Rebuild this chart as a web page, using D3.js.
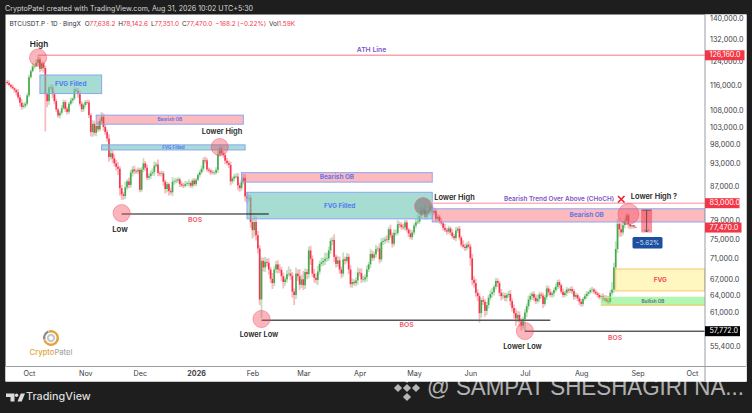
<!DOCTYPE html>
<html>
<head>
<meta charset="utf-8">
<style>
  html, body { margin: 0; padding: 0; background: #1e1e1e; }
  svg { display: block; font-family: Inter, Roboto, sans-serif; }
  .yaxis text, .xaxis text { fill: #3a3d45; font-size: 7.2px; font-family: Inter, Roboto, sans-serif; }
</style>
</head>
<body>
<script src="https://cdn.jsdelivr.net/npm/d3@7"></script>
<script>
// Daily closes in thousands of USDT
const closesSep = [116.6,116,115.4,114.9,114.3,113.6,112,110.3,109,109.4,110,112.6];
const closesOct = [118.6,120.6,122.2,122.4,123.5,124.7,121.4,123.3,121.7,113,110.8,115.2,115.2,113,110.8,108.2,106.4,107.2,108.6,110.5,108.4,107.5,110,111,111.6,114.5,114.1,113,110,108.3,109.6];
const closesNov = [110.5,110.4,106.5,101.5,103.9,101.3,103.3,102.3,104.7,106,103,101.5,99.7,94.6,95.6,94.2,92.9,92,91.5,86.6,85.1,84.7,86.8,88.3,87.4,90.5,91.3,90.9,90.8,91.2];
const closesDec = [86.2,91.3,92.9,91.8,89.2,89.6,90.3,90.6,92.3,92.6,90.4,90.2,90.3,88.2,86.4,87.6,85.9,85.6,88.2,88.3,88.5,88.8,87.6,87.3,87.2,87.6,87.8,87.9,87.2,88.5,87.6];
const closesJan = [88.7,89.9,90.6,91.5,93.8,93.7,91.3,91,90.6,90.5,90.5,91.2,95.3,97,95.6,95.1,93.6,93,92.5,88.3,89,89.5,89.5,87.3,86.6,88.3,89.2,84.6,84.1,84.3,78.7];
const closesFeb = [76.9,78.7,75.8,73,63.2,70.5,69.2,70.3,70.1,68.8,67,66.2,68.8,69.8,68.8,68.7,67.5,66.4,66.9,67.9,68,67.6,64.6,64,68,67.5,65.9,66.9];
const closesMar = [65.8,68.3,67.9,72.6,70.9,68,67.2,66.8,68.4,69.9,70.2,70.5,70.9,71,72.6,74.6,74.8,71.3,69.9,70.6,68.8,68,70.8,70.5,71.3,68.8,66,66.4,66.2,66.7,68.2];
const closesApr = [68.1,66.9,66.9,67.3,68.8,69.8,71.9,71.1,71.8,72.9,73,70.8,74.4,74.6,74.9,74.8,77.1,75.8,74,76.3,76.3,78.2,78.1,77.6,77.5,78.6,77,76.2,75.4,76.4];
const closesMay = [77.9,78.6,78.8,80,81.3,81.4,79.8,80.5,81,82.3,80.8,81.2,79.4,79.9,78.9,78.4,77.4,76.9,76.6,77.3,76.4,75.6,75.2,76.8,77.2,75.3,73.8,73.4,73.1,73.8,73.4];
const closesJun = [71,66.8,66.2,64.4,63.8,60.8,63.1,62.8,61.2,62.2,63.5,64.2,64.5,65.5,66.6,66.2,64.4,63.8,63.9,63.5,64,64.2,62.9,61.7,60.8,59.9,60.5,59.4,58.7,59.8];
const closesJul = [60.9,62,63.2,63.8,64.2,63.5,62.9,63.3,64.1,63.9,62.4,63.6,65.2,64.5,64,64.3,64.9,65.5,66.4,65.8,64.6,64,64.4,65,64.8,65.1,64.7,63.7,64,63.4,62.8];
const closesAug = [62.4,63.3,63.8,64.2,64.5,64.9,65,64.6,64.3,64,63.6,63.8,63.4,63.2,62.9,62.8,64.4,65,69.2,72.9,78.3,77.1,76.4,78,78.9,80.2,78.2,77.7,78,77.638,77.47];

// Wick lengths above the body and below the body, same order as the closes
const wicksUp = [
  .6,.9,.4,.7,.3,.5,1,.8,1.2,.9,.6,.8,
  .8,.6,1.3,.7,1.2,1.46,.9,.5,.6,.8,.5,.4,1,.9,.9,.7,.5,.6,1,.8,.6,.7,.5,.9,.4,.8,.6,.9,1.2,.7,.5,
  .6,.7,.8,.5,1.1,.9,.6,1.3,.8,1.5,1,.9,.7,1.1,1.3,.8,1,.9,1.2,.7,.8,.6,1.4,.5,.9,.7,.8,1,.6,.7,
  .5,.7,1.4,.6,.9,.7,.8,1,1.1,.6,1.3,.5,.7,.6,.5,.6,.4,.8,1.2,.7,.6,.5,.4,.7,.6,.8,.5,.9,.4,.5,.6,
  .4,.5,.6,.8,.7,.9,.6,.5,.4,.6,.5,.7,1,.9,.8,.6,.5,.7,.6,.9,.5,.7,.8,.9,.6,.5,1,
  .9,1.1,.8,.6,.7,1.5,1.2,.9,.7,.8,.6,1,.7,.9,.5,1.1,.6,.7,.8,1,.6,.7,.5,.8,1.4,.9,.7,.6,
  1.2,.8,1.4,.9,1.6,.7,.6,.8,1,.7,.9,.8,1.1,.6,.9,.7,1.3,1.1,.8,.6,.7,1.2,.5,.9,.7,.6,1.4,.5,.8,.6,.9,
  .7,.5,.6,1,.8,.9,.7,.6,.8,.5,1,.7,.6,.9,.5,1.1,.8,.7,.6,.9,.5,1,.6,.8,.7,.9,.6,.5,.7,.6,
  .5,.4,.8,.6,.5,.9,1.6,.5,.7,.4,1,.6,.5,.4,.7,.8,.5,.6,.4,.7,.3,.9,.5,.6,.4,.7,.5,.8,.5,.6,.4,
  .9,.6,.5,.8,.6,.9,.7,.8,.6,.5,.4,.7,.5,.6,.5,.7,.8,.4,.6,.5,.4,.7,.6,.5,.4,.6,.7,.5,.6,.8,
  .7,.6,.5,.4,.6,.5,.7,.6,.4,.5,.6,.8,.5,.4,.5,.4,.6,.5,.6,.4,.5,.6,.4,.5,.3,.6,.4,.5,.3,.4,.5,
  .4,.5,.3,.4,.5,.3,.4,.5,.3,.4,.5,.3,.4,.3,.4,.3,.5,.6,.7,.9,.5,1.4,.9,1.6,1.1,1.2,1.4,.9,.7,.5,.5
];
const wicksDown = [
  .5,.4,.6,.3,.8,1,.7,1.1,.9,.5,.7,.6,
  .6,.5,.4,.7,.5,.9,1.2,.8,1.6,11.3,1.9,1.1,.9,1.3,1,.8,.7,.9,.6,.5,1,.8,.7,.5,.9,.6,.4,1.1,.7,.9,.8,
  .7,.6,.9,1.2,1.4,.8,1,.7,.6,.9,1.1,.8,.9,1.3,.7,1.2,.8,.9,1.6,1.8,1.3,.9,.7,.6,.8,.7,1,.8,.6,.7,
  .6,.5,.7,.8,.6,.5,.7,.6,.9,.5,.8,.6,.7,1,1.1,.8,1.1,.6,.9,.7,.5,.6,.7,.5,.6,.4,.5,.8,.5,.6,.5,
  .5,.4,.6,.5,.7,.8,.6,.5,.7,.4,.6,.5,.8,.6,.5,.7,.9,.6,.8,1,.6,.7,.5,1.2,.9,.6,.8,1.2,1.1,.7,1.3,
  1.8,1.4,1.1,1,1,3.2,.8,.9,.7,1,.8,1.1,.6,.7,.8,.6,.9,1.2,.7,.6,.5,.8,1.1,1.8,.7,.9,1,.6,
  .9,.7,1,.8,1.2,.6,.9,.7,1,.6,.5,.7,.8,.6,.5,.7,.9,1,.7,.6,.8,.9,.6,.7,.5,.9,.6,.7,.5,.6,.8,
  .6,.7,.5,.6,.8,.5,.7,.6,.5,.7,.6,.8,.5,.7,.6,.5,.7,.6,.8,.5,.6,.5,.7,.6,.5,.7,.6,.8,.5,.6,
  .5,.6,.4,.5,.7,.6,.5,.6,.4,.7,.5,.6,.7,.4,.6,.5,.6,.4,.7,.5,.6,.5,.4,.7,.5,.6,.5,.4,.6,.5,.4,
  1.5,1,.8,.7,.9,1.6,.8,.6,1,.7,.6,.5,.7,.6,.5,.7,.6,.8,.5,.6,.7,.5,.8,.6,.9,1.3,.7,.9,.8,.5,
  2.03,.8,.6,.5,.7,.6,.5,.4,.6,.5,.7,.4,.5,.6,.4,.5,.6,.4,.5,.6,.4,.5,.4,.6,.5,.4,.5,.6,.4,.5,.6,
  .5,.4,.3,.5,.4,.3,.5,.4,.3,.5,.4,.3,.5,.4,.3,.4,.3,.5,.6,.5,.8,1.6,.9,.6,.7,.8,.9,.6,.5,.4,.119
];

const priceTicks = [140000,132000,124000,116000,108000,103000,98000,93000,87000,79000,75000,71000,67000,64000,61000,58000,55400];
const monthTicks = ["2025-10-01","2025-11-01","2025-12-01","2026-01-01","2026-02-01","2026-03-01","2026-04-01","2026-05-01","2026-06-01","2026-07-01","2026-08-01","2026-09-01","2026-10-01"];

// Marked zones on the chart
const zoneNames  = ["FVG Filled","Bearish OB","FVG Filled","Bearish OB","FVG Filled","Bearish OB","FVG","Bullish OB"];
const zoneStarts = ["2025-10-07","2025-11-07","2025-11-10","2026-01-26","2026-01-29","2026-05-11","2026-08-20","2026-08-12"];
const zoneEnds   = ["2025-11-10","2026-01-27","2026-01-28","2026-05-11","2026-05-11","2026-10-28","2026-10-08","2026-10-08"];
const zoneTops   = [119300,106500,97900,90500,85600,81700,68900,63600];
const zoneBottoms= [113200,103800,96500,88100,79400,78700,64750,62200];

// Swing points circled on the chart
const pivotDates  = ["2025-10-06","2025-11-21","2026-01-14","2026-02-06","2026-05-06","2026-07-01","2026-08-27"];
const pivotPrices = [125300,80700,97300,59800,82300,57800,80500];

// Break of structure lines
const bosStarts = ["2025-11-21","2026-02-06","2026-07-01"];
const bosEnds   = ["2026-02-10","2026-07-15","2026-10-08"];
const bosPrices = [80500,59600,57772];

const w = 752;
const h = 413;
const plotLeft = 6;
const plotRight = 705;
const plotBottom = 366.5;
const parse = d3.utcParse("%Y-%m-%d");

const svg = d3.select("body").append("svg").attr("width", w).attr("height", h);

const x = d3.scaleUtc()
  .domain([parse("2025-10-01"), parse("2026-10-01")])
  .range([29, 692]);
const y = d3.scaleLog()
  .domain([55400, 140000])
  .range([346, 18.5]);

// Build candles, open is the previous close
const closes = [].concat(closesSep, closesOct, closesNov, closesDec, closesJan, closesFeb, closesMar, closesApr, closesMay, closesJun, closesJul, closesAug);
const firstDay = parse("2025-09-19");
const candles = closes.map((c, i) => {
  const open = i === 0 ? 117 : closes[i - 1];
  return {
    date: d3.utcDay.offset(firstDay, i),
    open: open * 1000,
    close: c * 1000,
    high: (Math.max(open, c) + (wicksUp[i] || 0)) * 1000,
    low: (Math.min(open, c) - (wicksDown[i] || 0)) * 1000
  };
});

// White chart panel
svg.append("rect").attr("x", plotLeft - 0.5).attr("y", 14.5).attr("width", 741).attr("height", 367).attr("fill", "#fff");

const upColor = "#43a94b";
const downColor = "#f7334a";
const color = (d) => d.close >= d.open ? upColor : downColor;

// Candles: pale wicks and a solid body
svg.append("g").selectAll("line")
  .data(candles)
  .enter()
  .append("line")
    .attr("x1", (d) => x(d.date))
    .attr("x2", (d) => x(d.date))
    .attr("y1", (d) => y(d.high))
    .attr("y2", (d) => y(d.low))
    .attr("stroke", color)
    .attr("stroke-opacity", 0.34)
    .attr("stroke-width", 1.8);

svg.append("g").selectAll("rect")
  .data(candles)
  .enter()
  .append("rect")
    .attr("x", (d) => x(d.date) - 0.8)
    .attr("width", 1.6)
    .attr("y", (d) => y(Math.max(d.open, d.close)))
    .attr("height", (d) => Math.max(0.6, Math.abs(y(d.open) - y(d.close))))
    .attr("fill", color);

// Zones
const zoneStyle = {
  "FVG Filled": { fill: "rgba(112,198,182,0.62)", stroke: "#8aa6f5", text: "#4f7df0" },
  "Bearish OB": { fill: "rgba(247,82,95,0.40)", stroke: "#8aa6f5", text: "#5f78e8" },
  "FVG": { fill: "rgba(255,232,90,0.38)", stroke: "#fbc667", text: "#f4485c" },
  "Bullish OB": { fill: "rgba(70,235,70,0.42)", stroke: "#b6f0a8", text: "#5a7a8a" }
};
zoneNames.forEach((name, i) => {
  const x0 = x(parse(zoneStarts[i]));
  const xEnd = x(parse(zoneEnds[i]));
  const x1 = Math.min(xEnd, plotRight);
  const y0 = y(zoneTops[i]);
  const y1 = y(zoneBottoms[i]);
  const st = zoneStyle[name];
  svg.append("rect")
    .attr("x", x0).attr("y", y0)
    .attr("width", x1 - x0).attr("height", y1 - y0)
    .attr("fill", st.fill).attr("stroke", st.stroke).attr("stroke-width", 1);
  // Thin zones carry smaller text, and the label centres on the full zone
  svg.append("text")
    .attr("x", (x0 + xEnd) / 2)
    .attr("y", (y0 + y1) / 2 + 0.3)
    .attr("text-anchor", "middle")
    .attr("dominant-baseline", "middle")
    .attr("font-size", y1 - y0 > 9.2 ? 6.4 : 4.6)
    .attr("font-weight", 700)
    .attr("fill", st.text)
    .text(name);
});

// Bullish OB has an orange lower edge
svg.append("line")
  .attr("x1", x(parse(zoneStarts[7]))).attr("x2", plotRight)
  .attr("y1", y(zoneBottoms[7])).attr("y2", y(zoneBottoms[7]))
  .attr("stroke", "#fbc667").attr("stroke-width", 1);

// ATH and 83,000 lines
svg.append("line")
  .attr("x1", x(parse("2025-10-06"))).attr("x2", plotRight)
  .attr("y1", y(126160)).attr("y2", y(126160))
  .attr("stroke", "#f7a3ad").attr("stroke-width", 1.3);
svg.append("line")
  .attr("x1", x(parse("2026-05-06"))).attr("x2", plotRight)
  .attr("y1", y(83000)).attr("y2", y(83000))
  .attr("stroke", "#f9b4bc").attr("stroke-width", 1.4);

// BOS lines
bosStarts.forEach((s, i) => {
  svg.append("line")
    .attr("x1", x(parse(s))).attr("x2", Math.min(x(parse(bosEnds[i])), plotRight))
    .attr("y1", y(bosPrices[i])).attr("y2", y(bosPrices[i]))
    .attr("stroke", i === 1 ? "#55565a" : "#111")
    .attr("stroke-width", i === 1 ? 1.5 : 1);
});

// Pivot circles
svg.append("g").selectAll("circle")
  .data(pivotDates)
  .enter()
  .append("circle")
    .attr("cx", (d) => x(parse(d)))
    .attr("cy", (d, i) => y(pivotPrices[i]))
    .attr("r", (d, i) => i === 6 ? 10.5 : 8.6)
    .attr("fill", (d, i) => i === 4 ? "rgba(125,115,115,0.6)" : "rgba(245,70,90,0.40)")
    .attr("stroke", (d, i) => i === 4 ? "rgba(240,110,120,0.7)" : "rgba(245,70,90,0.55)")
    .attr("stroke-width", 0.8);

// Short position box and arrow
const boxX0 = x(parse("2026-09-03"));
const boxX1 = x(parse("2026-09-09"));
svg.append("rect")
  .attr("x", boxX0).attr("y", y(81400))
  .attr("width", boxX1 - boxX0).attr("height", y(76400) - y(81400))
  .attr("fill", "rgba(240,60,80,0.55)");
const arrowX = (boxX0 + boxX1) / 2;
svg.append("line").attr("x1", boxX0 + 0.5).attr("x2", boxX1 - 0.5).attr("y1", y(81400)).attr("y2", y(81400)).attr("stroke", "#5a3b40").attr("stroke-width", 0.8);
svg.append("line").attr("x1", arrowX).attr("x2", arrowX).attr("y1", y(81400)).attr("y2", y(76500)).attr("stroke", "#5a3b40").attr("stroke-width", 0.8);
svg.append("path")
  .attr("d", `M${arrowX - 2.3},${y(76500) - 2.3}L${arrowX},${y(76500)}L${arrowX + 2.3},${y(76500) - 2.3}`)
  .attr("fill", "none").attr("stroke", "#5a3b40").attr("stroke-width", 0.8);
svg.append("rect").attr("x", 632.5).attr("y", 237).attr("width", 30).attr("height", 11.5).attr("rx", 1.5).attr("fill", "#1d4f9f");
svg.append("text").attr("x", 647.5).attr("y", 243).attr("text-anchor", "middle").attr("dominant-baseline", "middle")
  .attr("font-size", 6.4).attr("fill", "#d7e3f7").text("\u22125.62%");

// Text labels
function label(txt, lx, ly, size, col, weight) {
  return svg.append("text")
    .attr("x", lx).attr("y", ly)
    .attr("text-anchor", "middle")
    .attr("dominant-baseline", "middle")
    .attr("font-size", size)
    .attr("font-weight", weight || 600)
    .attr("fill", col)
    .text(txt);
}
const dark = "#1c1d21";
const red = "#f4556a";
const purple = "#7c55c8";
label("High", 39, 44.5, 8.2, dark);
label("Low", 120, 229.5, 7.8, dark);
label("Lower High", 222, 132, 7.4, dark);
label("Lower Low", 259, 335, 7.4, dark);
label("Lower High", 454.5, 198, 7.4, dark);
label("Lower Low", 522.5, 347, 7.4, dark);
label("Lower High ?", 654, 197, 7.4, dark);
label("BOS", 195, 220, 6.8, red);
label("BOS", 406.5, 325.5, 6.8, red);
label("BOS", 615, 338, 6.8, red);
label("ATH Line", 371.5, 50.5, 6.8, purple);
label("Bearish Trend Over Above (CHoCH)", 559, 199, 6.4, purple);
svg.append("path").attr("d", "M618,196L624.5,202.5M624.5,196L618,202.5").attr("stroke", "#ef1f2f").attr("stroke-width", 1.6).attr("fill", "none");

// Axes
svg.append("rect").attr("x", plotLeft - 0.5).attr("y", plotBottom).attr("width", 741).attr("height", 15).attr("fill", "#fff");
svg.append("rect").attr("x", plotRight).attr("y", 14.5).attr("width", 41.5).attr("height", 367).attr("fill", "#fff");

const yAxis = svg.append("g")
  .attr("class", "yaxis")
  .attr("transform", `translate(${plotRight},0)`)
  .call(d3.axisRight(y).tickValues(priceTicks).tickSize(0).tickPadding(5).tickFormat(d3.format(",.1f")));
yAxis.select(".domain").remove();

const xAxis = svg.append("g")
  .attr("class", "xaxis")
  .attr("transform", `translate(0,${plotBottom})`)
  .call(d3.axisBottom(x).tickValues(monthTicks.map(parse)).tickSize(0).tickPadding(4)
    .tickFormat((d) => d.getUTCMonth() === 0 ? d3.utcFormat("%Y")(d) : d3.utcFormat("%b")(d)));
xAxis.select(".domain").remove();
xAxis.selectAll("text").attr("font-weight", (d) => d.getUTCMonth() === 0 ? 700 : 400);

svg.append("line").attr("x1", plotLeft).attr("x2", 746).attr("y1", plotBottom).attr("y2", plotBottom).attr("stroke", "#9a9ca3").attr("stroke-width", 1);
svg.append("line").attr("x1", plotRight).attr("x2", plotRight).attr("y1", 14.5).attr("y2", 381.5).attr("stroke", "#9a9ca3").attr("stroke-width", 1);

// Price tags on the right axis
function priceTag(v, txt, bg, width) {
  svg.append("rect").attr("x", plotRight).attr("y", y(v) - 5).attr("width", width).attr("height", 10).attr("fill", bg);
  svg.append("text").attr("x", plotRight + 4.5).attr("y", y(v) + 0.2).attr("dominant-baseline", "middle")
    .attr("font-size", 7.2).attr("fill", "#fff").text(txt);
}
priceTag(126160, "126,160.0", "#f23645", 39.5);
priceTag(83000, "83,000.0", "#f23645", 34.5);
priceTag(77470, "77,470.0", "#f23645", 36.5);
priceTag(57772, "57,772.0", "#000", 35);

// Header and legend
svg.append("text").attr("x", 5).attr("y", 9.5).attr("dominant-baseline", "middle")
  .attr("font-size", 7.1).attr("fill", "#d8d8d8").text("CryptoPatel created with TradingView.com, Aug 31, 2026 10:02 UTC+5:30");

const legend = svg.append("text").attr("x", 9.5).attr("y", 23.5).attr("dominant-baseline", "middle").attr("font-size", 6.4).attr("fill", "#30323a");
legend.append("tspan").text("BTCUSDT.P \u00b7 1D \u00b7 BingX");
const legendRed = "#f2384a";
[["O", "77,638.2"], ["H", "78,142.6"], ["L", "77,351.0"], ["C", "77,470.0"]].forEach((p, i) => {
  legend.append("tspan").attr("dx", i === 0 ? 4 : 3).text(p[0]);
  legend.append("tspan").attr("fill", legendRed).text(p[1]);
});
legend.append("tspan").attr("dx", 3).attr("fill", legendRed).text("\u2212168.2 (\u22120.22%)");
legend.append("tspan").attr("dx", 3).text("Vol");
legend.append("tspan").attr("fill", legendRed).text("1.59K");

// CryptoPatel logo
const gold = "#e0a63a";
const logoArc = d3.arc().innerRadius(5.6).outerRadius(8);
const logo = svg.append("g").attr("transform", "translate(51,338)");
logo.append("path").attr("d", logoArc({ startAngle: -0.3, endAngle: 4.4 })).attr("fill", gold);
logo.append("path").attr("d", logoArc({ startAngle: 4.5, endAngle: 5.9 })).attr("fill", "#8a8a8a");
logo.append("circle").attr("r", 4.2).attr("fill", "#c9c9cc");
logo.append("circle").attr("r", 2).attr("fill", "#fff");
const logoText = svg.append("text").attr("x", 51).attr("y", 353).attr("text-anchor", "middle").attr("dominant-baseline", "middle").attr("font-size", 7.6).attr("font-weight", 500);
logoText.append("tspan").attr("fill", gold).text("Crypto");
logoText.append("tspan").attr("fill", "#a8a8a8").text("Patel");

// TradingView footer
const tv = svg.append("g").attr("fill", "#dcdcdc");
tv.append("path").attr("d", "M6,393.5H14.5V401.5H10.5V397H6Z");
tv.append("circle").attr("cx", 16.6).attr("cy", 395.3).attr("r", 1.7);
tv.append("path").attr("d", "M17.5,401.5L20.8,393.5H25L21.7,401.5Z");
svg.append("text").attr("x", 26).attr("y", 397.5).attr("dominant-baseline", "middle")
  .attr("font-size", 10.8).attr("font-weight", 500).attr("fill", "#dcdcdc").text("TradingView");

// Watermark along the bottom
const mark = svg.append("g").attr("fill", "#fff").attr("fill-opacity", 0.68);
[[0, -9], [-9, 0], [9, 0], [0, 9], [0, 0]].forEach((c) => {
  mark.append("rect")
    .attr("x", -2.9).attr("y", -2.9).attr("width", 5.8).attr("height", 5.8)
    .attr("transform", `translate(${407 + c[0]},${388 + c[1]}) rotate(45)`);
});
svg.append("text").attr("x", 427).attr("y", 388.5).attr("dominant-baseline", "middle")
  .attr("font-family", "'Liberation Sans', sans-serif")
  .attr("font-size", 23).attr("textLength", 317).attr("lengthAdjust", "spacingAndGlyphs")
  .attr("fill", "#fff").attr("fill-opacity", 0.68).text("@ SAMPAT SHESHAGIRI NA...");
</script>
</body>
</html>
